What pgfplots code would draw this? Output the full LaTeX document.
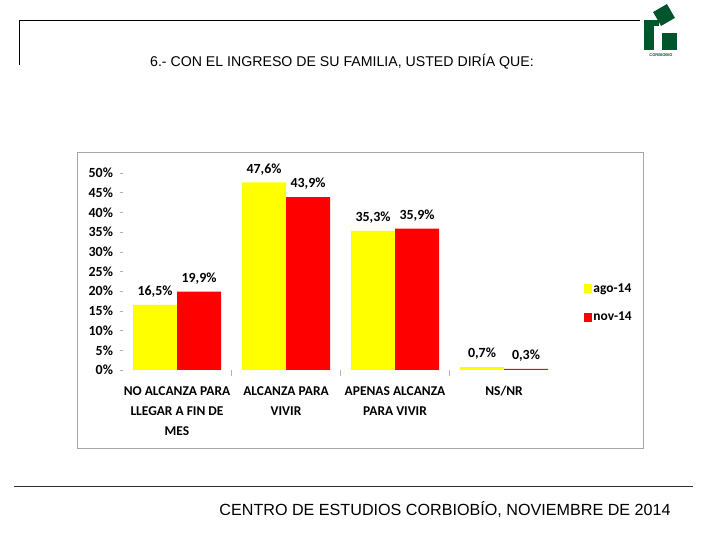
\documentclass[border=0pt]{standalone}
\usepackage{fontspec}
\setmainfont{Carlito}
\newfontfamily\arial{Liberation Sans}
\usepackage{pgfplots}
\pgfplotsset{compat=1.18}
\definecolor{barY}{RGB}{255,255,0}
\definecolor{barR}{RGB}{255,0,0}
\definecolor{logo}{RGB}{0,85,45}
\begin{document}
\begin{tikzpicture}[x=1bp,y=1bp]
\useasboundingbox (0,0) rectangle (720,540);
% frame
\draw[line width=0.8bp, black] (19,475) -- (19,520) -- (640,520);
\node[font=\arial\fontsize{14.2}{16}\selectfont] at (342,478) {6.- CON EL INGRESO DE SU FAMILIA, USTED DIRÍA QUE:};
% logo
\fill[logo, rotate around={30:(664,525)}] (656,517) rectangle (672,533);
\fill[logo] (644,490) rectangle (654,520);
\fill[logo] (644,514) rectangle (659,520);
\fill[logo] (662,490) rectangle (677,507);
\node[logo, font=\arial\fontsize{4}{5}\selectfont\bfseries, inner sep=0] at (661,485) {CORBIOBIO};
% chart box
\draw[gray!70, line width=0.8bp] (77,388) rectangle (643,92);
% bottom line and footer
\draw[line width=0.8bp, black!80] (14,54) -- (693,54);
\node[font=\arial\fontsize{16.2}{18}\selectfont] at (445,30) {CENTRO DE ESTUDIOS CORBIOBÍO, NOVIEMBRE DE 2014};
\begin{axis}[
  at={(122.5bp,170bp)}, anchor=south west,
  scale only axis, width=436bp, height=197bp,
  xmin=-0.5, xmax=3.5, ymin=0, ymax=50,
  clip=false,
  ybar=0pt, bar width=44bp,
  axis line style={draw=none},
  xtick pos=bottom, ytick pos=left,
  ytick={0,5,...,50},
  yticklabel={\pgfmathprintnumber{\tick}\%},
  yticklabel style={font=\bfseries\fontsize{14}{16}\selectfont, xshift=-3bp},
  /pgf/number format/assume math mode=true,
  ytick style={draw=gray!60, line width=0.5bp},
  major tick length=3bp, tick align=outside,
  xtick={0,1,2,3},
  xticklabels={{NO ALCANZA PARA\\LLEGAR A FIN DE\\MES},{ALCANZA PARA\\VIVIR},{APENAS ALCANZA\\PARA VIVIR},{NS/NR}},
  xticklabel style={font=\bfseries\fontsize{13.5}{20}\selectfont, align=center, yshift=-10bp},
  xtick style={draw=none},
  extra x ticks={0.5,1.5,2.5},
  extra x tick labels={},
  extra x tick style={xtick style={draw=gray!60, line width=0.5bp}, major tick length=6bp},
  nodes near coords={\pgfmathprintnumber[use comma,fixed,fixed zerofill,precision=1]{\pgfplotspointmeta}\%},
  nodes near coords style={font=\bfseries\fontsize{14}{16}\selectfont, yshift=4bp},
  legend style={at={(1.05,0.34)}, anchor=west, draw=none, fill=none,
    font=\bfseries\fontsize{13.5}{15}\selectfont, row sep=14bp},
  legend cell align=left,
  legend image code/.code={\fill[#1] (0bp,-4.5bp) rectangle (8bp,4.5bp);},
]
\addplot[fill=barY, draw=none] coordinates {(0,16.5) (1,47.6) (2,35.3) (3,0.7)};
\addplot[fill=barR, draw=none] coordinates {(0,19.9) (1,43.9) (2,35.9) (3,0.3)};
\legend{ago-14,nov-14}
\end{axis}
\end{tikzpicture}
\end{document}
